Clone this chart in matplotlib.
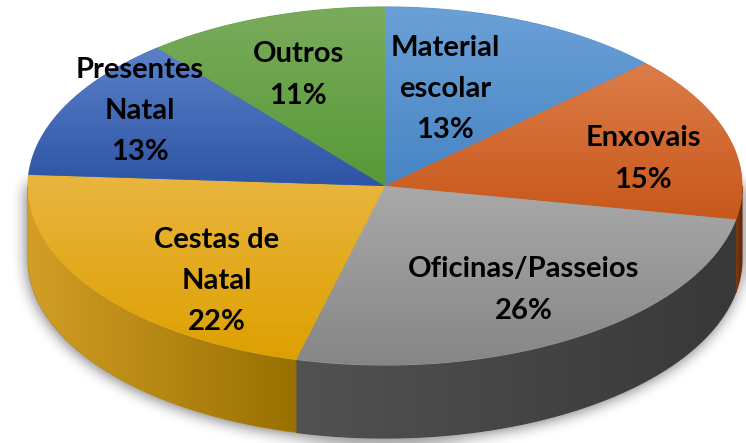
import matplotlib
matplotlib.use('Agg')
import matplotlib.pyplot as plt
import numpy as np
from matplotlib.patches import Polygon
from matplotlib.colors import to_rgb

# data
labels = ['Material\nescolar', 'Enxovais', 'Oficinas/Passeios',
          'Cestas de\nNatal', 'Presentes\nNatal', 'Outros']
values = [13, 15, 26, 22, 13, 11]

# colours (top face light -> dark, side left -> right)
top_light = ['#6ba0d6', '#dc7d49', '#a9a9a9', '#e9b53f', '#5b81c9', '#7aab5c']
top_dark = ['#4785c4', '#c8571a', '#868686', '#dea000', '#2d54a5', '#589937']
side_light = ['#3a5f8a', '#7a3a12', '#525252', '#d29e26', '#2a4a8a', '#3f6e26']
side_dark = ['#2a4a70', '#5a2808', '#383838', '#987000', '#1e3a70', '#2f5a1c']

# layout (pixels)
W, H = 746, 443
cx, cy, rx, ry, depth = 385, 186, 357, 179, 73
label_xy = [(445, 89), (643, 159), (524, 290), (217, 281), (140, 111), (298, 75)]

fig = plt.figure(figsize=(W / 100, H / 100), dpi=100)
ax = fig.add_axes([0, 0, 1, 1])
ax.set_axis_off()


def ell(t, dy=0):
    return cx + rx * np.cos(t), cy - ry * np.sin(t) + dy


def grad_fill(xy, c0, c1, vertical, z):
    xy = np.asarray(xy)
    x0, y0 = xy.min(axis=0)
    x1, y1 = xy.max(axis=0)
    mid = tuple((np.array(to_rgb(c0)) + np.array(to_rgb(c1))) / 2)
    base = Polygon(xy, closed=True, facecolor=mid, edgecolor=mid, lw=0.8, zorder=z)
    ax.add_patch(base)
    t = np.linspace(0, 1, 256)[:, None]
    cols = (1 - t) * np.array(to_rgb(c0)) + t * np.array(to_rgb(c1))
    img = cols[:, None, :] if vertical else cols[None, :, :]
    im = ax.imshow(img, extent=(x0, x1, y1, y0), aspect='auto',
                   interpolation='bilinear', zorder=z + 0.1)
    im.set_clip_path(base)


# soft shadow under the pie
yy, xx = np.mgrid[0:H, 0:W]
sil = (((xx - cx) / rx) ** 2 + ((yy - cy - depth - 3) / ry) ** 2 <= 1) | \
      ((np.abs(xx - cx) <= rx) & (yy >= cy) & (yy <= cy + depth + 3))
sil = sil.astype(float)
for _ in range(3):
    k = 7
    c = np.cumsum(np.pad(sil, ((0, 0), (k, k)), mode='edge'), axis=1)
    sil = (c[:, 2 * k:] - c[:, :-2 * k]) / (2 * k)
    c = np.cumsum(np.pad(sil, ((k, k), (0, 0)), mode='edge'), axis=0)
    sil = (c[2 * k:, :] - c[:-2 * k, :]) / (2 * k)
shadow = np.zeros((H, W, 4))
shadow[..., 3] = np.clip(sil, 0, 1) * 0.55
ax.imshow(shadow, extent=(0, W, H, 0), zorder=0, interpolation='bilinear')

# wedges
fracs = np.array(values) / np.sum(values)
edges = 90 - 360 * np.concatenate([[0], np.cumsum(fracs)])
for i in range(len(values)):
    a0, a1 = edges[i], edges[i + 1]
    # side wall (front half only)
    hi, lo = min(a0, 0), max(a1, -180)
    if hi > lo:
        t = np.radians(np.linspace(hi, lo, 120))
        xt, yt = ell(t)
        xb, yb = ell(t[::-1], depth)
        side = np.column_stack([np.r_[xt, xb], np.r_[yt, yb]])
        grad_fill(side, side_light[i], side_dark[i], False, 1)
    t = np.radians(np.linspace(a0, a1, 150))
    xt, yt = ell(t)
    top = np.column_stack([np.r_[cx, xt], np.r_[cy, yt]])
    grad_fill(top, top_light[i], top_dark[i], True, 2)

for i in range(len(values)):
    ax.text(label_xy[i][0], label_xy[i][1], f'{labels[i]}\n{values[i]}%',
            ha='center', va='center', fontsize=21, fontweight='bold',
            family='Lato', linespacing=1.72, color='black', zorder=5)

ax.set_xlim(0, W)
ax.set_ylim(H, 0)
fig.savefig('out.png', dpi=100, facecolor='white')
